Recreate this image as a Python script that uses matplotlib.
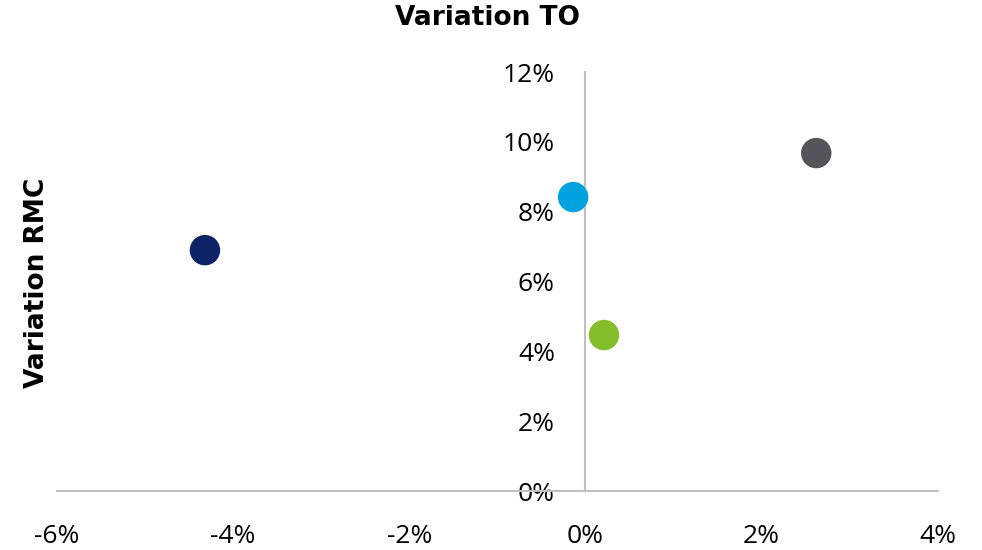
import matplotlib.pyplot as plt
from matplotlib.ticker import PercentFormatter

plt.rcParams["axes.unicode_minus"] = False

# Variation TO (x) vs Variation RMC (y), in percent
to_var = [-4.32, -0.14, 0.21, 2.62]
rmc_var = [6.9, 8.42, 4.47, 9.68]
colors = ["#0c2466", "#00a3e0", "#84bd2a", "#54545a"]

xticks = [-6, -4, -2, 0, 2, 4]
yticks = [0, 2, 4, 6, 8, 10, 12]

fig = plt.figure(figsize=(9.82, 5.5), dpi=100)
ax = fig.add_axes([0.058, 0.107, 0.897, 0.762])

ax.scatter(to_var, rmc_var, s=480, c=colors, zorder=3, linewidths=0)

ax.set_xlim(-6, 4)
ax.set_ylim(0, 12)
ax.set_xticks(xticks)
ax.set_yticks(yticks)
ax.xaxis.set_major_formatter(PercentFormatter(decimals=0))
ax.yaxis.set_major_formatter(PercentFormatter(decimals=0))

# axes cross at zero, light grey lines, no ticks
for s in ["top", "right"]:
    ax.spines[s].set_visible(False)
ax.spines["left"].set_position(("data", 0))
ax.spines["left"].set_color("#c0c0c0")
ax.spines["bottom"].set_color("#c0c0c0")
ax.spines["left"].set_linewidth(1.5)
ax.spines["bottom"].set_linewidth(1.5)
ax.tick_params(length=0, labelsize=19)
ax.tick_params(axis="x", pad=24)
ax.tick_params(axis="y", pad=22)
for lbl in ax.get_xticklabels() + ax.get_yticklabels():
    lbl.set_fontfamily("Open Sans")

fig.text(0.496, 0.967, "Variation TO", ha="center", va="center",
         fontsize=19, fontweight="bold")
fig.text(0.038, 0.485, "Variation RMC", ha="center", va="center",
         rotation=90, fontsize=19, fontweight="bold")

fig.savefig("out.png", dpi=100)
